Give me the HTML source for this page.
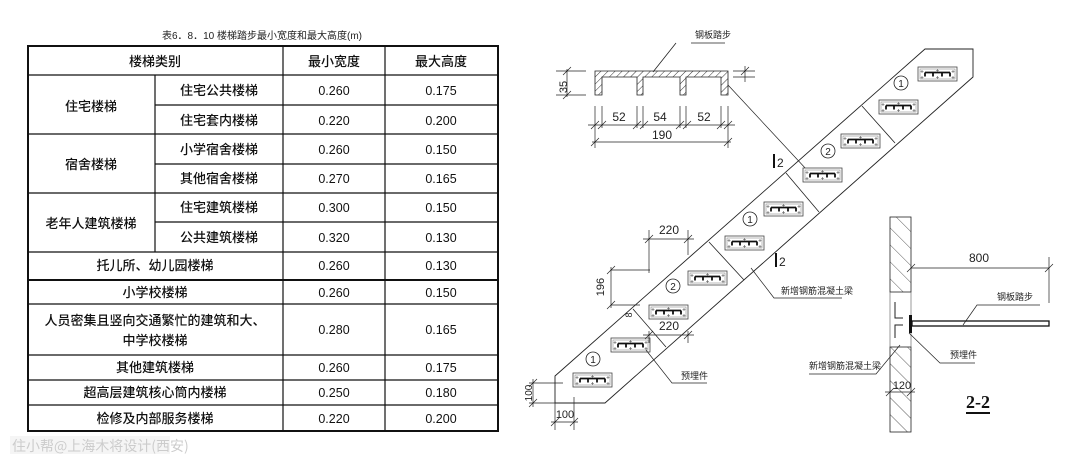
<!DOCTYPE html>
<html><head><meta charset="utf-8"><style>
html,body{margin:0;padding:0;background:#fff;}
svg{display:block;}
.t{font-family:"Liberation Sans","Noto Sans CJK SC",sans-serif;font-size:13px;font-weight:500;fill:#111;text-anchor:middle;}
.n{font-family:"Liberation Sans",sans-serif;font-size:12.5px;fill:#111;text-anchor:middle;}
.d{font-family:"Liberation Sans",sans-serif;font-size:12px;fill:#222;text-anchor:middle;}
.s{font-family:"Liberation Sans","Noto Sans CJK SC",sans-serif;font-size:9px;fill:#222;}
</style></head><body>
<svg width="1080" height="466" viewBox="0 0 1080 466" xmlns="http://www.w3.org/2000/svg">
<defs>
<pattern id="h" width="5" height="5" patternUnits="userSpaceOnUse" patternTransform="rotate(45)"><line x1="0" y1="0" x2="0" y2="5" stroke="#333" stroke-width="1"/></pattern>
<pattern id="w" width="12" height="12" patternUnits="userSpaceOnUse" patternTransform="rotate(-45)"><line x1="0" y1="0" x2="0" y2="12" stroke="#333" stroke-width="0.8"/></pattern>
<g id="b">
<rect x="0" y="0" width="39" height="14" fill="#fff" stroke="#444" stroke-width="0.8"/>
<rect x="2" y="2" width="35" height="10" fill="none" stroke="#777" stroke-width="0.5"/>
<path d="M7 5.5H32M7 5.5V9.5M15 5.5V9.5M24 5.5V9.5M32 5.5V9.5" stroke="#111" stroke-width="1.8" fill="none"/>
<path d="M4 3V6M2.5 4.5H5.5M35 3V6M33.5 4.5H36.5M4 9V12M2.5 10.5H5.5M35 9V12M33.5 10.5H36.5M19.5 2V5M18 3.5H21M19.5 9V12M18 10.5H21" stroke="#555" stroke-width="0.6"/>
</g>
</defs>

<!-- TABLE -->
<text x="262" y="39" class="s" style="font-size:10px;text-anchor:middle">表6．8．10 楼梯踏步最小宽度和最大高度(m)</text>
<g stroke="#111" fill="none">
<rect x="28" y="46" width="470" height="385" stroke-width="2"/>
<path d="M283 46V431M385 46V431M155 75V252" stroke-width="1.2"/>
<path d="M28 75H498M155 105H498M28 134H498M155 164H498M28 193H498M155 222H498M28 252H498M28 304H498M28 355H498M28 380H498M28 405H498" stroke-width="1.2"/>
<path d="M28 280H498" stroke-width="2"/>
</g>
<text class="t" x="155" y="66">楼梯类别</text><text class="t" x="334" y="66">最小宽度</text><text class="t" x="441" y="66">最大高度</text>
<text class="t" x="91" y="111">住宅楼梯</text><text class="t" x="219" y="95">住宅公共楼梯</text><text class="t" x="219" y="125">住宅套内楼梯</text>
<text class="n" x="334" y="95">0.260</text><text class="n" x="441" y="95">0.175</text>
<text class="n" x="334" y="125">0.220</text><text class="n" x="441" y="125">0.200</text>
<text class="t" x="91" y="169">宿舍楼梯</text><text class="t" x="219" y="154">小学宿舍楼梯</text><text class="t" x="219" y="183">其他宿舍楼梯</text>
<text class="n" x="334" y="154">0.260</text><text class="n" x="441" y="154">0.150</text>
<text class="n" x="334" y="183">0.270</text><text class="n" x="441" y="183">0.165</text>
<text class="t" x="91" y="228">老年人建筑楼梯</text><text class="t" x="219" y="212">住宅建筑楼梯</text><text class="t" x="219" y="242">公共建筑楼梯</text>
<text class="n" x="334" y="212">0.300</text><text class="n" x="441" y="212">0.150</text>
<text class="n" x="334" y="242">0.320</text><text class="n" x="441" y="242">0.130</text>
<text class="t" x="155" y="270">托儿所、幼儿园楼梯</text><text class="n" x="334" y="270">0.260</text><text class="n" x="441" y="270">0.130</text>
<text class="t" x="155" y="297">小学校楼梯</text><text class="n" x="334" y="297">0.260</text><text class="n" x="441" y="297">0.150</text>
<text class="t" x="155" y="325">人员密集且竖向交通繁忙的建筑和大、</text><text class="t" x="155" y="345">中学校楼梯</text>
<text class="n" x="334" y="334">0.280</text><text class="n" x="441" y="334">0.165</text>
<text class="t" x="155" y="372">其他建筑楼梯</text><text class="n" x="334" y="372">0.260</text><text class="n" x="441" y="372">0.175</text>
<text class="t" x="155" y="397">超高层建筑核心筒内楼梯</text><text class="n" x="334" y="397">0.250</text><text class="n" x="441" y="397">0.180</text>
<text class="t" x="155" y="423">检修及内部服务楼梯</text><text class="n" x="334" y="423">0.220</text><text class="n" x="441" y="423">0.200</text>
<rect x="10" y="436" width="160" height="18" fill="#eee" opacity="0.6"/>
<text x="12" y="451" style="font-family:'Noto Sans CJK SC',sans-serif;font-size:14px;fill:#ccc">住小帮@上海木将设计(西安)</text>

<!-- PROFILE DETAIL -->
<text class="s" x="695" y="38">钢板踏步</text>
<path d="M691 43H725M676 43L653 72" stroke="#222" stroke-width="0.8" fill="none"/>
<path d="M595 71H728V95H721V77H686V95H680V77H643V95H637V77H602V95H595Z" fill="url(#h)" stroke="#222" stroke-width="0.8"/>
<g stroke="#222" stroke-width="0.7" fill="none">
<path d="M556 71H586M556 95H586M567 69V97M563 75L571 67M563 99L571 91"/>
<path d="M733 71H755M733 77H755M745 66V82M741 75L749 67"/>
<path d="M595 106V148M602 106V128M637 106V128M643 106V128M680 106V128M686 106V128M721 106V128M728 106V148"/>
<path d="M588 125H735M591 129L599 121M598 129L606 121M633 129L641 121M640 129L648 121M676 129L684 121M683 129L691 121M717 129L725 121M724 129L732 121"/>
<path d="M592 142H731M591 146L599 138M724 146L732 138"/>
<path d="M728 85L807 170"/>
</g>
<text class="d" x="567" y="87" transform="rotate(-90 567 87)" style="font-size:11px">35</text>
<text class="d" x="619" y="121">52</text><text class="d" x="660" y="121">54</text><text class="d" x="704" y="121">52</text>
<text class="d" x="662" y="139">190</text>

<!-- STAIR -->
<path d="M555 376L925 49H973V77L605 403H555Z" fill="none" stroke="#222" stroke-width="0.9"/>
<g stroke="#222" stroke-width="0.8">
<path d="M862 106L895 143M786 173L819 212M709 242L744 280M633 309L666 347"/>
</g>
<use href="#b" x="918" y="67"/><use href="#b" x="879" y="100"/><use href="#b" x="841" y="134"/><use href="#b" x="803" y="168"/><use href="#b" x="764" y="202"/>
<use href="#b" x="725" y="236"/><use href="#b" x="688" y="271"/><use href="#b" x="649" y="305"/><use href="#b" x="611" y="338"/><use href="#b" x="573" y="373"/>
<g fill="#fff" stroke="#222" stroke-width="0.8">
<circle cx="901" cy="83" r="7"/><circle cx="828" cy="151" r="7"/><circle cx="750" cy="219" r="7"/><circle cx="673" cy="286" r="7"/><circle cx="593" cy="359" r="7"/>
</g>
<g class="d" style="font-size:10px">
<text x="901" y="87">1</text><text x="828" y="155">2</text><text x="750" y="223">1</text><text x="673" y="290">2</text><text x="593" y="363">1</text>
</g>
<path d="M774 154V168M776 253V267" stroke="#111" stroke-width="2"/>
<text x="777" y="167" class="s" style="font-size:12px">2</text><text x="779" y="266" class="s" style="font-size:12px">2</text>
<g stroke="#222" stroke-width="0.7" fill="none">
<path d="M649 230V273M688 230V255M643 239H694M645 243L653 235M684 243L692 235"/>
<path d="M611 267V308M611 270H650M611 305H640M607 274L615 266M607 309L615 301"/>
<path d="M649 331V343M688 331V343M643 335H694M645 339L653 331M684 339L692 331"/>
<path d="M533 379V407M529 383H563M529 403H555M529 387L537 379M529 407L537 399"/>
<path d="M555 403V430M574 397V430M551 422H578M551 426L559 418M570 426L578 418"/>
<path d="M646 350L672 383H707"/>
<path d="M751 268L774 298H842"/>
</g>
<text class="d" x="669" y="234">220</text><text class="d" x="669" y="330">220</text>
<text class="d" x="604" y="287" transform="rotate(-90 604 287)" style="font-size:11px">196</text>
<text class="d" x="632" y="315" transform="rotate(-90 632 315)" style="font-size:9px">8</text>
<text class="d" x="532" y="393" transform="rotate(-90 532 393)" style="font-size:10px">100</text>
<text class="d" x="565" y="418" style="font-size:11px">100</text>
<text class="s" x="681" y="379">预埋件</text>
<text class="s" x="781" y="294">新增钢筋混凝土梁</text>

<!-- SECTION 2-2 -->
<rect x="890" y="217" width="21" height="75" fill="url(#w)" stroke="#222" stroke-width="0.8"/>
<rect x="890" y="347" width="21" height="85" fill="url(#w)" stroke="#222" stroke-width="0.8"/>
<path d="M890 292V347M911 292V347" stroke="#555" stroke-width="0.6"/>
<path d="M895 302V318H903M895 338V325H903" stroke="#222" stroke-width="1" fill="none"/>
<rect x="909" y="315" width="3" height="18" fill="#111"/>
<rect x="912" y="321" width="137" height="5" fill="#fff" stroke="#111" stroke-width="1.3"/>
<g stroke="#222" stroke-width="0.7" fill="none">
<path d="M911 268H1049M1049 257V303M907 272L915 264M1045 272L1053 264"/>
<path d="M963 325L977 305H1040"/>
<path d="M909 333L940 363H975"/>
<path d="M900 345L876 374H809"/>
<path d="M885 392H915M886 396L894 388M907 396L915 388"/>
</g>
<text class="d" x="979" y="262">800</text>
<text class="s" x="997" y="300">钢板踏步</text>
<text class="s" x="950" y="358">预埋件</text>
<text class="s" x="809" y="369">新增钢筋混凝土梁</text>
<text class="d" x="902" y="389" style="font-size:11px">120</text>
<text x="978" y="408" style="font-family:'Liberation Serif',serif;font-size:18px;font-weight:bold;text-anchor:middle;fill:#111">2-2</text>
<path d="M966 413H990" stroke="#111" stroke-width="2"/>
</svg>
</body></html>
